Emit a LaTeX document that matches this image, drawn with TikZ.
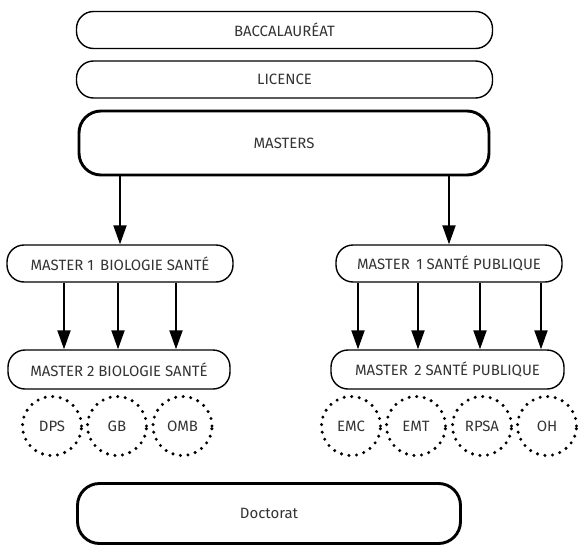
\documentclass[tikz,border=0pt]{standalone}
\usepackage{fontspec}
\setmainfont{Fira Sans}
\usepackage{xcolor}
\usepackage{tikz}
\usetikzlibrary{arrows.meta,shapes}

\definecolor{txtgray}{HTML}{333333}

\begin{document}
\begin{tikzpicture}[every node/.style={text=txtgray,font=\fontsize{15}{17}\selectfont},
    pill/.style={draw,line width=1.4bp,rounded corners=17bp,minimum height=37bp,inner sep=0pt},
    bigpill/.style={draw,line width=2.9bp,rounded corners=22bp,inner sep=0pt},
    spec/.style={circle,draw,line width=3.4bp,dash pattern=on 0bp off 7.6bp,line cap=round,minimum size=59bp,inner sep=0pt},
    arr/.style={-{Triangle[width=13bp,length=19bp]},line width=2bp}]
    \useasboundingbox (0bp,0bp) rectangle (580bp,-547bp);
    \node (bac) at (284.5bp,-30bp)[pill,minimum width=416bp] {BACCALAURÉAT};
    \node (lic) at (284.5bp,-79.5bp)[pill,minimum width=416bp] {LICENCE};
    \node (masters) at (284bp,-143bp)[bigpill,minimum width=410bp,minimum height=64bp] {MASTERS};
    \node (m1bs) at (120bp,-263.5bp)[pill,minimum width=226bp] {MASTER 1\, BIOLOGIE SANTÉ};
    \node (m1sp) at (449bp,-263.5bp)[pill,minimum width=226bp] {MASTER\, 1 SANTÉ PUBLIQUE};
    \node (m2bs) at (119bp,-369.5bp)[pill,minimum width=222bp,minimum height=39bp] {MASTER 2 BIOLOGIE SANTÉ};
    \node (m2sp) at (447.5bp,-369.5bp)[pill,minimum width=233bp,minimum height=39bp] {MASTER\, 2 SANTÉ PUBLIQUE};
    \node (dps) at (52bp,-426bp)[spec] {DPS};
    \node (gb) at (117bp,-426bp)[spec] {GB};
    \node (omb) at (182.5bp,-426bp)[spec] {OMB};
    \node (emc) at (351bp,-426bp)[spec] {EMC};
    \node (emt) at (416bp,-426bp)[spec] {EMT};
    \node (rpsa) at (482bp,-426bp)[spec] {RPSA};
    \node (oh) at (547bp,-426bp)[spec] {OH};
    \node (doc) at (269bp,-513.5bp)[bigpill,minimum width=383bp,minimum height=60bp] {Doctorat};
    \draw [arr] (m1bs |- masters.south) to (m1bs.north);
    \draw [arr] (m1sp |- masters.south) to (m1sp.north);
    \foreach \dx in {-56,-2,56}
        \draw [arr] ([xshift=\dx bp]m1bs.south) to ([xshift=\dx bp]m1bs.south |- m2bs.north);
    \foreach \dx in {-91,-31,31,92}
        \draw [arr] ([xshift=\dx bp]m1sp.south) to ([xshift=\dx bp]m1sp.south |- m2sp.north);
\end{tikzpicture}
\end{document}
